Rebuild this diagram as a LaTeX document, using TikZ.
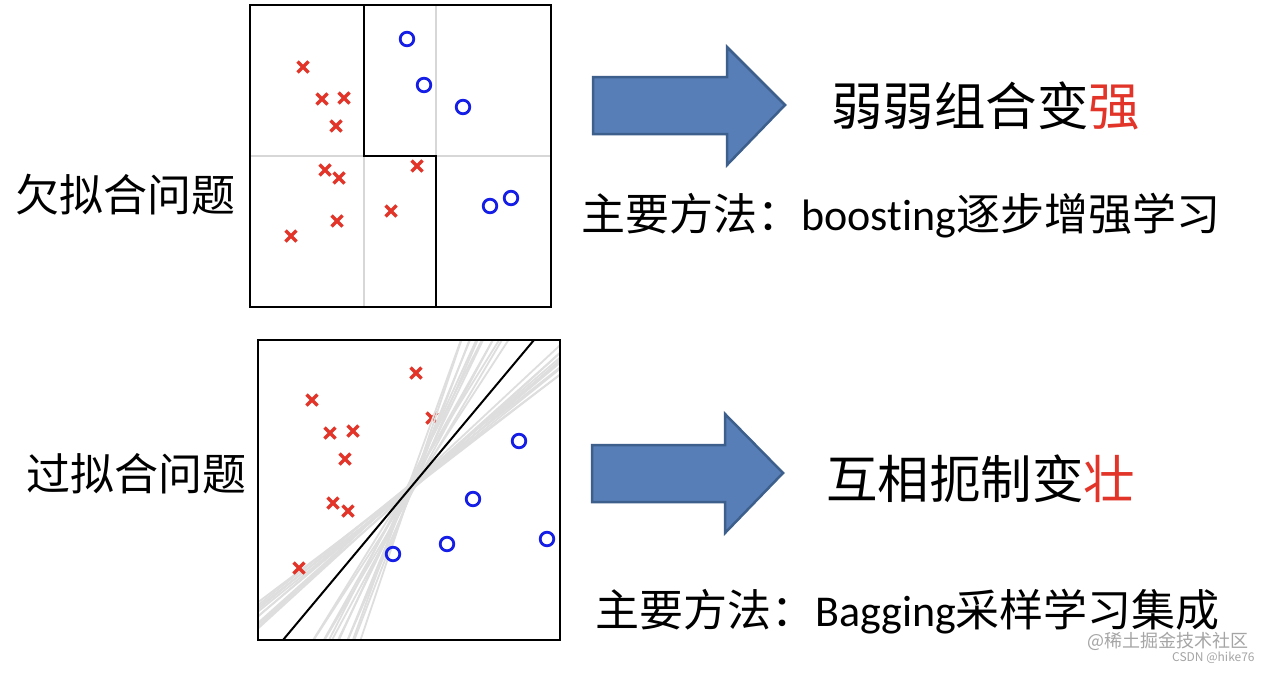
\documentclass[tikz,border=0pt]{standalone}
\usepackage{fontspec}
\setmainfont{Noto Sans CJK SC}
\newfontfamily\latinfont{Carlito}[Ligatures=NoCommon]
\usetikzlibrary{calc}
\definecolor{arrowblue}{RGB}{88,126,184}
\definecolor{arrowedge}{RGB}{60,95,140}
\definecolor{xred}{RGB}{226,52,40}
\definecolor{oblue}{RGB}{20,30,230}
\definecolor{gridgray}{RGB}{215,215,215}
\definecolor{fangray}{RGB}{222,222,222}
\definecolor{markgray}{RGB}{165,165,165}
\tikzset{
  xmark/.style={xred,line width=3.3pt},
  omark/.style={oblue,line width=2.8pt},
  frame/.style={black,line width=1.5pt},
  gridline/.style={gridgray,line width=2pt},
  fanline/.style={fangray,line width=1.8pt},
  bigarrow/.style={fill=arrowblue,draw=arrowedge,line width=2.5pt,line join=miter},
  lefttext/.style={anchor=west,inner sep=0pt,font=\fontsize{44}{44}\selectfont},
  bigtext/.style={anchor=west,inner sep=0pt,font=\fontsize{51.5}{52}\selectfont},
  subtext/.style={anchor=west,inner sep=0pt,font=\fontsize{44}{44}\selectfont},
  wmtext/.style={anchor=west,inner sep=0pt,markgray}
}
\begin{document}
\begin{tikzpicture}[x=1pt,y=-1pt]
\useasboundingbox (0,0) rectangle (1266,672);
\fill[white] (0,0) rectangle (1266,672);

% underfitting: stumps
\draw[gridline] (364,5) -- (364,307) (436,5) -- (436,307) (250,156) -- (551,156);
\draw[frame,line width=2pt] (364,5) -- (364,156) -- (436,156) -- (436,307);
\foreach \x/\y in {303/67,322/99,344/98,336/126,325/170,339/178,417/166,391/211,337/221,291/236}
  \draw[xmark] (\x-5.5,\y-5.5) -- (\x+5.5,\y+5.5) (\x-5.5,\y+5.5) -- (\x+5.5,\y-5.5);
\foreach \x/\y in {407/39,424/85,463/107,490/206,511/198}
  \draw[omark] (\x,\y) circle (6.8);
\draw[frame] (250,5) rectangle (551,307);

% overfitting: many lines
\coordinate (fan) at (411,487);
\draw[xmark] (432-5.5,418-5.5) -- (432+5.5,418+5.5) (432-5.5,418+5.5) -- (432+5.5,418-5.5);
\begin{scope}
\clip (258,340) rectangle (560,640);
\foreach \a/\d in {37/0,37.6/3,38.2/-3,38.8/2,39.4/-4,40/1,40.6/-2,41.2/4,41.8/-1,42.4/2,43/-3,
                   57/2,58.2/-3,59.4/4,60.6/-1,61.8/3,63/-4,64.2/1,65.4/-2,66.6/3,67.8/-1,69/2,70.2/-3,71.4/1}
  \draw[fanline] ($(fan)+(\d,0)+(180-\a:450)$) -- ($(fan)+(\d,0)+(-\a:450)$);
\end{scope}
\foreach \x/\y in {416/373,312/400,330/433,353/431,345/459,333/503,348/511,299/568}
  \draw[xmark] (\x-5.5,\y-5.5) -- (\x+5.5,\y+5.5) (\x-5.5,\y+5.5) -- (\x+5.5,\y-5.5);
\draw[frame,line width=2pt] (283,640) -- (534,340);
\foreach \x/\y in {519/441,473/499,447/544,393/554,547/539}
  \draw[omark] (\x,\y) circle (6.8);
\draw[frame] (258,340) rectangle (560,640);

% arrows
\draw[bigarrow] (593,77) -- (727,77) -- (727,47) -- (785,105) -- (727,165) -- (727,134) -- (593,134) -- cycle;
\draw[bigarrow] (592,445) -- (725,445) -- (725,414) -- (783,473) -- (725,533) -- (725,502) -- (592,502) -- cycle;

\node[lefttext] (under) at (15,195) {欠拟合问题};
\node[lefttext] (over) at (26,474) {过拟合问题};
\node[bigtext] (weak) at (831,106) {弱弱组合变\textcolor{xred}{强}};
\node[subtext] (boost) at (581,216) {主要方法：{\latinfont boosting}逐步增强学习};
\node[bigtext] (check) at (826,479) {互相扼制变\textcolor{xred}{壮}};
\node[subtext] (bag) at (595,612) {主要方法：{\latinfont Bagging}采样学习集成};

\node[wmtext,font=\fontsize{18}{18}\selectfont] (juejin) at (1087,641) {@稀土掘金技术社区};
\node[wmtext,font=\fontsize{12}{12}\selectfont] (csdn) at (1172,658) {CSDN @hike76};
\end{tikzpicture}
\end{document}
